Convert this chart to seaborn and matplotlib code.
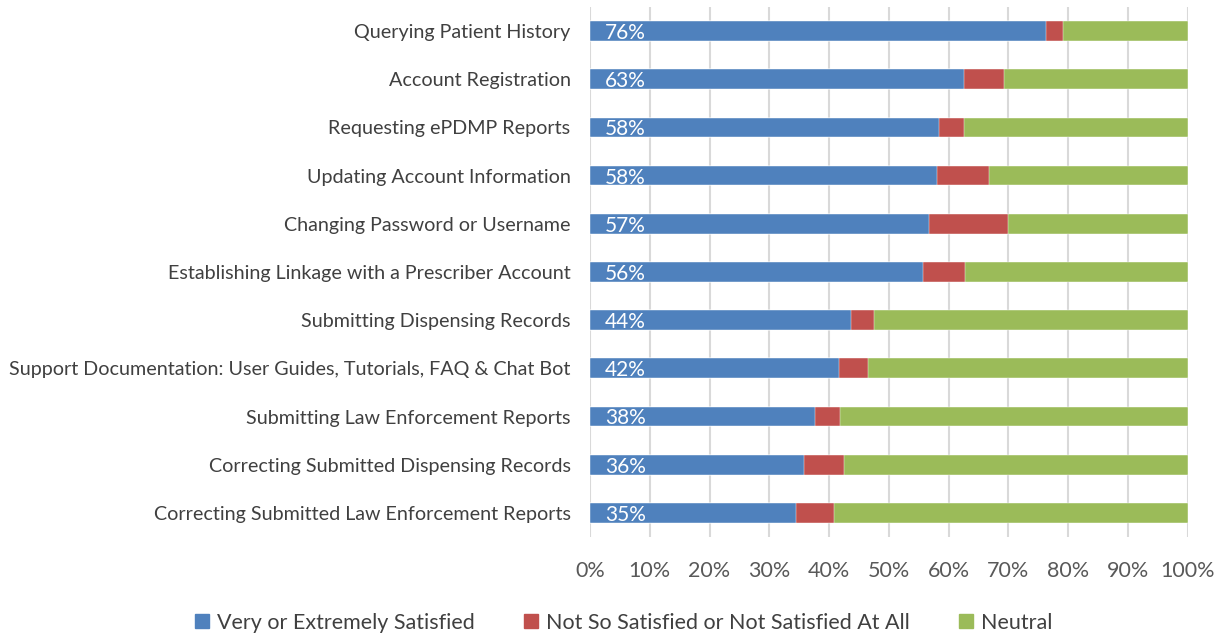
import matplotlib
matplotlib.use("Agg")
import matplotlib.pyplot as plt
import matplotlib.patches as mpatches
import seaborn as sns
import pandas as pd

categories = [
    "Querying Patient History",
    "Account Registration",
    "Requesting ePDMP Reports",
    "Updating Account Information",
    "Changing Password or Username",
    "Establishing Linkage with a Prescriber Account",
    "Submitting Dispensing Records",
    "Support Documentation: User Guides, Tutorials, FAQ & Chat Bot",
    "Submitting Law Enforcement Reports",
    "Correcting Submitted Dispensing Records",
    "Correcting Submitted Law Enforcement Reports",
]
satisfied = [76.3, 62.6, 58.4, 58.0, 56.8, 55.8, 43.6, 41.6, 37.6, 35.8, 34.5]
not_satisfied = [2.9, 6.6, 4.2, 8.7, 13.2, 7.0, 4.0, 4.9, 4.2, 6.7, 6.4]
neutral = [100 - a - b for a, b in zip(satisfied, not_satisfied)]
labels = ["76%", "63%", "58%", "58%", "57%", "56%", "44%", "42%", "38%", "36%", "35%"]

series_names = ["Very or Extremely Satisfied",
                "Not So Satisfied or Not Satisfied At All", "Neutral"]
colors = ["#4F81BD", "#C0504D", "#9BBB59"]

df = pd.DataFrame({"task": categories, "sat": satisfied,
                   "notsat": not_satisfied, "neutral": neutral})
df["cum_red"] = df["sat"] + df["notsat"]
df["cum_all"] = df["cum_red"] + df["neutral"]

sns.set_style("white")
plt.rcParams["font.family"] = ["Lato", "DejaVu Sans"]

fig = plt.figure(figsize=(12.23, 6.34), dpi=100)
ax = fig.add_axes([0.4824, 0.153, 0.4887, 0.836])

# stacked bars: full length first, then overlay the cumulative parts
bar_h = 0.41
ec = "white"
sns.barplot(data=df, y="task", x="cum_all", color=colors[2], orient="h",
            width=bar_h, ax=ax, saturation=1, edgecolor=ec, linewidth=0.3)
sns.barplot(data=df, y="task", x="cum_red", color=colors[1], orient="h",
            width=bar_h, ax=ax, saturation=1, edgecolor=ec, linewidth=0.3)
sns.barplot(data=df, y="task", x="sat", color=colors[0], orient="h",
            width=bar_h, ax=ax, saturation=1, edgecolor=ec, linewidth=0.3)

for i, lab in enumerate(labels):
    ax.text(2.5, i + 0.04, lab, color="white", fontsize=15, va="center", ha="left")

ax.set_xlim(0, 100)
ax.set_ylim(10.5, -0.5)
ax.set_xticks(range(0, 101, 10))
ax.set_xticklabels([f"{v}%" for v in range(0, 101, 10)], fontsize=15.5, color="#595959")
ax.tick_params(axis="x", length=0, pad=17)
ax.tick_params(axis="y", length=0, pad=14, labelsize=14.2, labelcolor="#404040")
ax.set_xlabel("")
ax.set_ylabel("")
ax.grid(axis="x", color="#d9d9d9", linewidth=1.5)
ax.set_axisbelow(True)
for s in ax.spines.values():
    s.set_visible(False)

handles = [mpatches.Patch(color=c, label=n) for c, n in zip(colors, series_names)]
fig.legend(handles=handles, loc="center", bbox_to_anchor=(0.51, 0.018),
           ncol=3, frameon=False, fontsize=15.5, handlelength=0.65,
           handleheight=0.65, handletextpad=0.35, columnspacing=2.3,
           labelcolor="#404040")

fig.savefig("out.png", dpi=100)
